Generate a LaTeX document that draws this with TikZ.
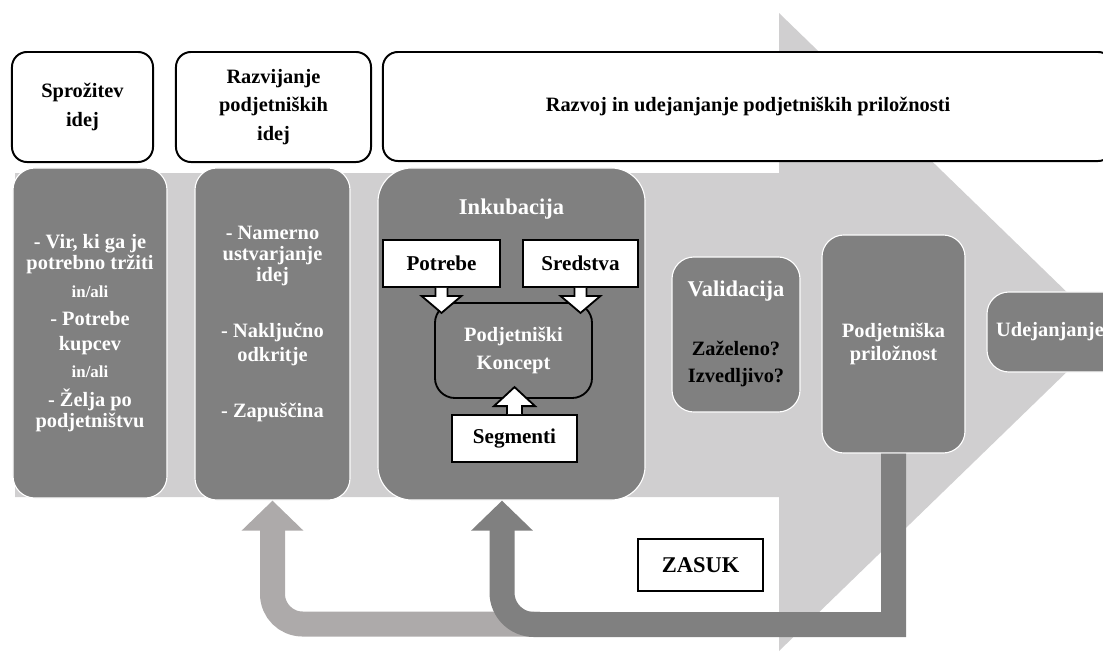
\documentclass[tikz,border=0pt]{standalone}
\usepackage{fontspec}
\setmainfont{Liberation Serif}
\usepackage{xcolor}
\usepackage{tikz}
\usetikzlibrary{arrows.meta,calc}
\definecolor{bggrey}{HTML}{D0CFD0}
\definecolor{stagegrey}{HTML}{808080}
\definecolor{backgrey}{HTML}{ADAAAA}

\begin{document}
\begin{tikzpicture}[x=0.025cm,y=-0.025cm]
    \tikzset{phase/.style = {shape=rectangle,draw,line width=1.4pt,rounded corners=0.375cm,fill=white,align=center,font=\fontsize{14.5}{20}\selectfont\bfseries}}
    \tikzset{stage/.style = {shape=rectangle,draw=white,line width=0.8pt,rounded corners=0.55cm,fill=stagegrey,text=white,align=center,font=\fontsize{14.5}{14.9}\selectfont\bfseries}}
    \tikzset{stagetext/.style = {text=white,align=center,font=\fontsize{14.5}{14.9}\selectfont\bfseries}}
    \tikzset{inbox/.style = {shape=rectangle,draw,line width=1.3pt,fill=white,font=\fontsize{15}{16}\selectfont\bfseries}}
    \tikzset{concept/.style = {shape=rectangle,draw,line width=1.3pt,rounded corners=0.5cm,fill=stagegrey,text=white,align=center,font=\fontsize{14.5}{19.8}\selectfont\bfseries}}
    \tikzset{blockarr/.style = {draw,fill=white,line width=1.3pt}}
    \tikzset{back/.style = {line width=0.625cm,-{Triangle[width=1.5cm,length=0.75cm]}}}

    \clip (0,0) rectangle (1103,651);

    % big arrow
    \fill[bggrey] (15,173) -- (779,173) -- (779,13) -- (1108,332) -- (779,651) -- (779,497) -- (15,497) -- cycle;

    % phases
    \node[phase,minimum width=3.525cm,minimum height=2.75cm] (sproz) at (82.5,107) {Sprožitev\\idej};
    \node[phase,minimum width=4.875cm,minimum height=2.75cm] (razv) at (273.5,107) {Razvijanje\\podjetniških\\idej};
    \node[phase,minimum width=18.25cm,minimum height=2.725cm] (udej) at (748,106.5) {Razvoj in udejanjanje podjetniških priložnosti};

    % stages
    \node[stage,minimum width=3.85cm,minimum height=8.25cm] (trig) at (90,333)
      {- Vir, ki ga je\\potrebno tržiti\\[5pt]{\fontsize{12}{14.9}\selectfont in/ali}\\[5pt]- Potrebe\\[3pt]kupcev\\[4pt]{\fontsize{12}{14.9}\selectfont in/ali}\\[6pt]- Želja po\\podjetništvu};
    \node[stage,minimum width=3.875cm,minimum height=8.3cm] (ideas) at (272.5,334) {};
    \node[stagetext] (ideast) at ([yshift=7pt]ideas.center)
      {- Namerno\\ustvarjanje\\idej\\[25pt]- Naključno\\[2pt]odkritje\\[25pt]- Zapuščina};
    \node[stage,rounded corners=0.85cm,minimum width=6.675cm,minimum height=8.3cm] (inku) at (511.5,334) {};
    \node[stagetext,font=\fontsize{16}{18}\selectfont\bfseries] (inkut) at ([yshift=-29.8pt]inku.north) {Inkubacija};
    \node[stage,minimum width=3.2cm,minimum height=3.875cm] (valid) at (736,334.5) {};
    \node[stagetext,font=\fontsize{16}{18}\selectfont\bfseries] (validt) at ([yshift=-24.8pt]valid.north) {Validacija};
    \node[stagetext,text=black,font=\fontsize{14.5}{19.8}\selectfont\bfseries] (validq) at ([yshift=-21pt]valid.center) {Zaželeno?\\Izvedljivo?};
    \node[stage,minimum width=3.575cm,minimum height=5.45cm,font=\fontsize{14.5}{16.3}\selectfont\bfseries] (prilo) at (893.5,344) {Podjetniška\\priložnost};
    \node[stage,minimum width=4cm,minimum height=2cm] (uresn) at (1067,332) {};
    \node[stagetext] (uresnt) at (1050,332) {Udejanjanje};

    % incubation
    \node[inbox,minimum width=2.925cm,minimum height=1.175cm] (potr) at (441.5,263.5) {Potrebe};
    \node[inbox,minimum width=2.875cm,minimum height=1.175cm] (sred) at (580.5,263.5) {Sredstva};
    \node[concept,minimum width=3.925cm,minimum height=2.375cm] (konc) at (513.5,350.5) {Podjetniški\\Koncept};
    \node[inbox,minimum width=3.125cm,minimum height=1.175cm] (segm) at (514.5,438.5) {Segmenti};
    \foreach \b in {potr,sred}
    {
      \draw[blockarr] ([xshift=-0.15cm]\b.south) -- ++(0,8) -- ++(-14,0) -- ++(20,17) -- ++(20,-17) -- ++(-14,0) -- ++(0,-8);
    }
    \draw[blockarr] ([xshift=-0.1875cm]segm.north) -- ++(0,-8) -- ++(-13,0) -- ++(20.5,-19) -- ++(20.5,19) -- ++(-13,0) -- ++(0,8);

    % pivot arrows
    \coordinate (lstart) at (540,624);
    \coordinate (dturn) at (502,624.5);
    \draw[back,backgrey,rounded corners=0.75cm] (lstart) -- (lstart -| ideas.south) -- (ideas.south);
    \draw[back,stagegrey] (prilo.south) -- (prilo.south |- dturn) [rounded corners=0.8cm] -- (dturn) -- (dturn |- inku.south);

    \node[inbox,minimum width=3.125cm,minimum height=1.3cm,font=\fontsize{16}{18}\selectfont\bfseries] (zasuk) at (700.5,565) {ZASUK};
\end{tikzpicture}
\end{document}
